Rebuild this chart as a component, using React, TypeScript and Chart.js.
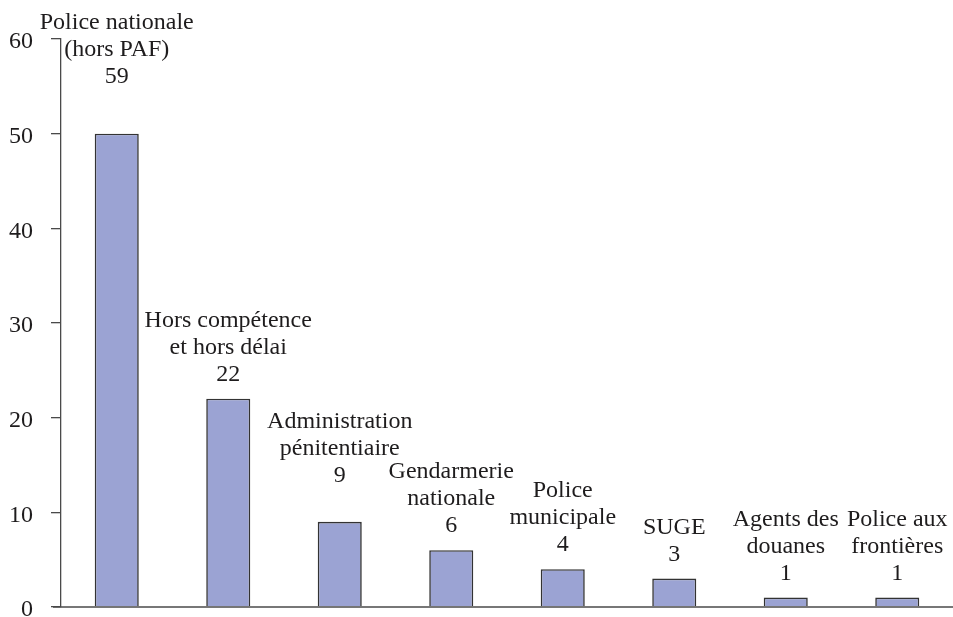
import React, { useEffect, useRef } from "react";
import { Chart, registerables } from "chart.js";

Chart.register(...registerables);

// Data
const categories: string[][] = [
  ["Police nationale", "(hors PAF)"],
  ["Hors compétence", "et hors délai"],
  ["Administration", "pénitentiaire"],
  ["Gendarmerie", "nationale"],
  ["Police", "municipale"],
  ["SUGE"],
  ["Agents des", "douanes"],
  ["Police aux", "frontières"],
];
const counts = [59, 22, 9, 6, 4, 3, 1, 1];
// drawn bar heights (first bar is truncated at 50 in the original)
const barHeights = [50, 22, 9, 6, 4, 3, 1, 1];
const yTicks = [0, 10, 20, 30, 40, 50, 60];

const FONT = "'Liberation Serif', 'Times New Roman', serif";
const TEXT = "#1e1c1d";
const AXIS = "#4a4a4a";

const labelPlugin = {
  id: "barLabels",
  afterDatasetsDraw(chart: any) {
    const ctx = chart.ctx;
    const meta = chart.getDatasetMeta(0);
    const yScale = chart.scales.y;
    const lineH = 27;
    const gap = 18;
    const minFirst = 29;
    const asc = 17;
    const desc = 6;
    ctx.save();
    ctx.font = `24px ${FONT}`;
    ctx.fillStyle = TEXT;
    ctx.textAlign = "center";
    ctx.textBaseline = "alphabetic";
    const blocks = meta.data.map((el: any, i: number) => {
      const lines = [...categories[i], String(counts[i])];
      const anchor = yScale.getPixelForValue(counts[i]);
      const last = anchor - gap;
      let first = last - (lines.length - 1) * lineH;
      if (first < minFirst) first = minFirst;
      const widths = lines.map((t) => ctx.measureText(t).width);
      return { x: el.x, lines, widths, first };
    });
    // avoid collisions: push a label up if it overlaps its right neighbour
    for (let i = blocks.length - 2; i >= 0; i--) {
      const a = blocks[i];
      const b = blocks[i + 1];
      let shift = 0;
      a.lines.forEach((_: string, ka: number) => {
        const ya = a.first + ka * lineH;
        const ar = a.x + a.widths[ka] / 2 + 4;
        b.lines.forEach((__: string, kb: number) => {
          const yb = b.first + kb * lineH;
          const bl = b.x - b.widths[kb] / 2;
          if (ar > bl) {
            const need = ya + desc - (yb - asc);
            if (need > 0 && ya - asc < yb + desc) shift = Math.max(shift, need);
          }
        });
      });
      a.first -= shift;
    }
    blocks.forEach((blk: any) => {
      blk.lines.forEach((t: string, k: number) => {
        ctx.fillText(t, blk.x, blk.first + k * lineH);
      });
    });
    ctx.restore();
  },
};

const axisPlugin = {
  id: "baseAxis",
  afterDraw(chart: any) {
    const { ctx, chartArea } = chart;
    ctx.save();
    ctx.strokeStyle = AXIS;
    ctx.lineWidth = 1.3;
    ctx.beginPath();
    ctx.moveTo(chartArea.left - 8, chartArea.bottom);
    ctx.lineTo(chartArea.right, chartArea.bottom);
    ctx.stroke();
    ctx.restore();
  },
};

export default function App() {
  const ref = useRef<HTMLCanvasElement | null>(null);
  useEffect(() => {
    if (!ref.current) return;
    const chart = new Chart(ref.current, {
      type: "bar",
      data: {
        labels: categories.map((c) => c.join(" ")),
        datasets: [
          {
            data: barHeights,
            backgroundColor: "#9ba3d3",
            borderColor: "#333333",
            borderWidth: 1.6,
            barPercentage: 0.395,
            categoryPercentage: 1,
          },
        ],
      },
      options: {
        animation: false,
        responsive: false,
        maintainAspectRatio: false,
        devicePixelRatio: 1,
        layout: { padding: { top: 39, bottom: 10, left: 0, right: 0 } },
        plugins: {
          legend: { display: false },
          tooltip: { enabled: false },
        },
        scales: {
          x: {
            display: false,
          },
          y: {
            min: 0,
            max: 60,
            afterFit: (scale: any) => {
              scale.width = 61;
              scale.paddingTop = 0;
              scale.paddingBottom = 0;
            },
            afterBuildTicks: (scale: any) => {
              scale.ticks = yTicks.map((v) => ({ value: v }));
            },
            grid: {
              drawOnChartArea: false,
              drawTicks: true,
              tickLength: 10,
              color: AXIS,
              lineWidth: 1.3,
            },
            border: { display: true, color: AXIS, width: 1.3 },
            ticks: {
              padding: 18,
              labelOffset: 3,
              color: TEXT,
              font: { family: FONT, size: 24 },
            },
          },
        },
      },
      plugins: [labelPlugin, axisPlugin],
    });
    return () => chart.destroy();
  }, []);
  return (
    <div style={{ position: "fixed", left: 0, top: 0, width: 953, height: 617, background: "#fff" }}>
      <canvas ref={ref} width={953} height={617} style={{ display: "block" }} />
    </div>
  );
}
